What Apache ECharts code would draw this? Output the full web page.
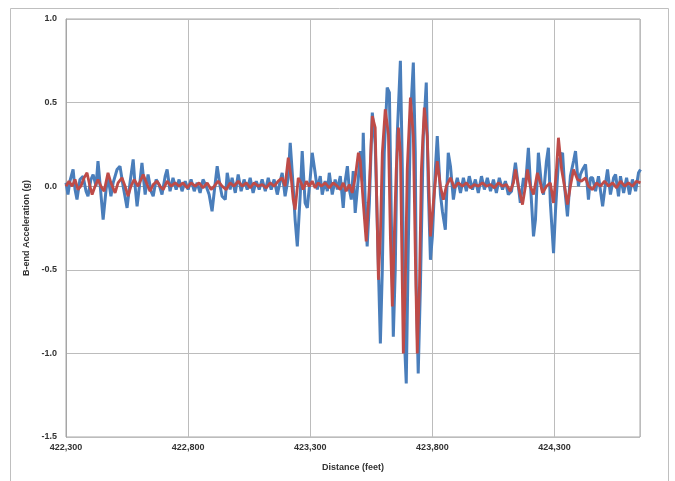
<!DOCTYPE html>
<html>
<head>
<meta charset="utf-8">
<script src="https://cdn.jsdelivr.net/npm/echarts@6/dist/echarts.min.js"></script>
<style>
  html, body { margin: 0; padding: 0; background: #fff; }
  #chart { width: 675px; height: 481px; }
</style>
</head>
<body>
<div id="chart"></div>
<script>
// distance (feet) and acceleration (g) at peaks / troughs
const blueDist = [
  422300, 422308, 422316, 422329, 422337, 422345, 422357, 422370, 422382, 422390,
  422402, 422411, 422423, 422431, 422439, 422452, 422464, 422472, 422484, 422493,
  422509, 422521, 422534, 422550, 422562, 422575, 422583, 422591, 422603, 422611,
  422624, 422636, 422648, 422657, 422669, 422681, 422693, 422706, 422714, 422726,
  422738, 422751, 422763, 422775, 422788, 422800, 422812, 422825, 422837, 422849,
  422861, 422874, 422886, 422898, 422911, 422919, 422931, 422939, 422952, 422960,
  422972, 422980, 422993, 423005, 423017, 423029, 423042, 423054, 423066, 423079,
  423091, 423103, 423116, 423128, 423140, 423152, 423165, 423177, 423185, 423197,
  423210, 423218, 423230, 423238, 423247, 423259, 423267, 423279, 423288, 423300,
  423308, 423320, 423329, 423341, 423349, 423361, 423370, 423378, 423390, 423402,
  423411, 423423, 423435, 423443, 423452, 423460, 423468, 423476, 423484, 423497,
  423505, 423513, 423517, 423525, 423533, 423542, 423554, 423566, 423574, 423587,
  423595, 423603, 423615, 423624, 423632, 423640, 423648, 423656, 423669, 423677,
  423685, 423693, 423702, 423710, 423722, 423730, 423734, 423742, 423751, 423763,
  423775, 423783, 423792, 423800, 423812, 423820, 423833, 423841, 423853, 423865,
  423874, 423886, 423894, 423902, 423915, 423927, 423939, 423951, 423964, 423976,
  423988, 424001, 424013, 424025, 424038, 424050, 424062, 424074, 424087, 424099,
  424111, 424124, 424140, 424152, 424160, 424173, 424181, 424193, 424206, 424214,
  424222, 424234, 424247, 424255, 424267, 424275, 424283, 424296, 424304, 424316,
  424333, 424341, 424353, 424365, 424378, 424386, 424398, 424406, 424415, 424427,
  424439, 424447, 424456, 424468, 424480, 424497, 424509, 424517, 424529, 424542,
  424550, 424562, 424570, 424583, 424595, 424607, 424619, 424632, 424644, 424652
];
const blueVals = [
  0.02, -0.05, 0.03, 0.10, -0.02, -0.08, 0.04, 0.06, -0.03, -0.06,
  0.04, 0.07, 0.00, 0.15, 0.02, -0.20, -0.02, 0.06, -0.06, 0.02,
  0.10, 0.12, 0.00, -0.13, 0.02, 0.16, 0.00, -0.12, 0.03, 0.14,
  -0.05, 0.07, -0.03, -0.06, 0.04, 0.01, -0.05, 0.06, 0.10, -0.03,
  0.05, -0.02, 0.04, -0.03, 0.03, -0.02, 0.04, -0.03, 0.02, -0.04,
  0.04, 0.00, -0.05, -0.15, 0.02, 0.12, 0.00, -0.06, -0.08, 0.08,
  -0.02, 0.05, -0.04, 0.07, -0.03, 0.04, -0.02, 0.05, -0.04, 0.03,
  -0.02, 0.04, -0.03, 0.05, -0.02, 0.04, -0.05, 0.03, 0.08, -0.06,
  0.05, 0.26, 0.00, -0.20, -0.36, -0.05, 0.21, -0.10, -0.13, 0.05,
  0.20, 0.08, -0.02, 0.06, -0.05, 0.03, -0.03, 0.08, -0.05, 0.04,
  -0.02, 0.06, -0.13, 0.03, 0.12, -0.02, -0.08, 0.09, -0.16, 0.05,
  0.21, 0.03, 0.32, -0.10, -0.36, -0.10, 0.44, 0.25, -0.20, -0.94,
  -0.50, 0.20, 0.59, 0.56, -0.20, -0.90, -0.50, 0.30, 0.75, 0.10,
  -0.90, -1.18, -0.30, 0.40, 0.74, 0.20, -0.60, -1.12, -0.60, 0.30,
  0.62, 0.00, -0.44, -0.30, 0.10, 0.30, -0.05, -0.15, -0.26, 0.20,
  0.12, -0.08, 0.00, 0.05, -0.04, 0.05, -0.03, 0.06, -0.02, 0.04,
  -0.04, 0.06, -0.02, 0.05, -0.03, 0.04, -0.04, 0.05, -0.02, 0.03,
  -0.05, -0.03, 0.14, 0.00, -0.10, 0.05, 0.00, 0.23, -0.10, -0.30,
  -0.20, 0.20, 0.00, -0.05, 0.15, 0.23, -0.10, -0.40, -0.15, 0.15,
  0.20, 0.00, -0.18, 0.06, 0.15, 0.21, 0.00, 0.07, 0.10, 0.13,
  -0.08, 0.05, 0.05, -0.03, 0.06, -0.12, 0.02, 0.10, -0.05, 0.05,
  0.07, -0.06, 0.06, -0.04, 0.05, -0.05, 0.04, -0.03, 0.08, 0.10
];

const redDist = [
  422300, 422312, 422325, 422337, 422349, 422361, 422374, 422386, 422398, 422407,
  422419, 422431, 422443, 422456, 422472, 422484, 422501, 422513, 422529, 422542,
  422554, 422566, 422579, 422595, 422616, 422632, 422644, 422657, 422673, 422685,
  422698, 422714, 422730, 422747, 422763, 422779, 422796, 422812, 422829, 422845,
  422861, 422878, 422894, 422907, 422923, 422939, 422956, 422972, 422988, 423005,
  423021, 423038, 423054, 423070, 423087, 423103, 423120, 423136, 423152, 423169,
  423185, 423197, 423210, 423222, 423230, 423238, 423251, 423263, 423271, 423284,
  423296, 423308, 423320, 423333, 423345, 423361, 423378, 423394, 423411, 423423,
  423435, 423447, 423460, 423472, 423484, 423497, 423505, 423517, 423529, 423542,
  423554, 423566, 423579, 423587, 423595, 423607, 423620, 423628, 423636, 423644,
  423652, 423661, 423669, 423681, 423689, 423697, 423710, 423722, 423730, 423738,
  423747, 423755, 423767, 423779, 423792, 423804, 423820, 423833, 423845, 423857,
  423874, 423890, 423906, 423923, 423939, 423956, 423972, 423988, 424005, 424021,
  424038, 424054, 424070, 424087, 424103, 424119, 424132, 424140, 424152, 424169,
  424181, 424189, 424201, 424214, 424230, 424242, 424251, 424267, 424283, 424296,
  424308, 424316, 424329, 424341, 424353, 424365, 424378, 424394, 424410, 424427,
  424439, 424456, 424472, 424488, 424505, 424521, 424538, 424554, 424570, 424587,
  424603, 424619, 424636, 424652
];
const redVals = [
  0.00, 0.03, 0.00, 0.04, -0.02, 0.00, 0.05, 0.08, 0.00, -0.05,
  0.00, 0.04, 0.00, -0.03, 0.08, 0.02, -0.04, 0.02, 0.05, 0.00,
  -0.06, 0.00, 0.04, 0.00, 0.07, 0.01, -0.03, 0.01, 0.03, 0.00,
  -0.02, 0.03, 0.00, 0.02, 0.00, 0.02, -0.01, 0.02, 0.00, 0.02,
  -0.01, 0.02, -0.02, 0.00, 0.03, 0.00, -0.02, 0.02, 0.00, 0.03,
  0.00, 0.02, -0.01, 0.02, 0.00, 0.01, -0.01, 0.02, 0.00, 0.03,
  0.05, 0.00, 0.17, 0.05, -0.08, -0.14, 0.05, 0.02, -0.02, 0.03,
  0.00, 0.03, -0.01, 0.02, 0.00, 0.02, -0.01, 0.02, 0.00, -0.02,
  0.02, -0.03, 0.01, -0.04, 0.05, 0.20, 0.15, -0.10, -0.33, 0.00,
  0.42, 0.35, -0.56, -0.30, 0.20, 0.46, 0.31, -0.30, -0.72, -0.30,
  0.10, 0.35, 0.20, -1.00, -0.60, 0.10, 0.53, 0.30, -0.40, -1.00,
  -0.60, 0.10, 0.47, 0.30, -0.30, -0.10, 0.15, 0.00, -0.08, 0.00,
  0.05, -0.01, 0.02, 0.00, 0.02, -0.01, 0.01, 0.00, 0.02, 0.00,
  0.01, -0.01, 0.02, 0.00, 0.01, -0.03, 0.02, 0.10, 0.00, -0.11,
  0.00, 0.10, 0.00, -0.05, 0.08, 0.02, -0.04, 0.00, 0.02, -0.10,
  0.10, 0.29, 0.10, 0.00, -0.11, 0.00, 0.10, 0.04, 0.03, 0.05,
  0.00, -0.02, 0.02, 0.00, 0.03, 0.00, 0.02, -0.01, 0.03, 0.00,
  0.02, 0.00, 0.03, 0.02
];

const xTicks = { min: 422300, max: 424650, step: 500 };
const yTicks = { min: -1.5, max: 1.0, step: 0.5 };

const zip = (xs, ys) => xs.map((x, i) => [x, ys[i]]);

const chart = echarts.init(document.getElementById('chart'));

const labelFont = {
  color: '#333',
  fontFamily: 'Liberation Sans, Arial, sans-serif',
  fontSize: 9,
  fontWeight: 'bold'
};

chart.setOption({
  animation: false,
  backgroundColor: '#fff',
  graphic: [{
    type: 'rect',
    shape: { x: 10.5, y: 8.5, width: 658, height: 480 },
    style: { fill: 'none', stroke: '#bfbfbf', lineWidth: 1 },
    silent: true
  }],
  grid: {
    left: 66,
    right: 35,
    top: 19,
    bottom: 44,
    show: true,
    borderColor: '#a6a6a6',
    borderWidth: 1
  },
  xAxis: {
    type: 'value',
    min: xTicks.min,
    max: xTicks.max,
    interval: xTicks.step,
    name: 'Distance (feet)',
    nameLocation: 'middle',
    nameGap: 26,
    nameTextStyle: labelFont,
    axisLine: { show: true, lineStyle: { color: '#a6a6a6' } },
    axisTick: { show: false },
    axisLabel: Object.assign({}, labelFont, {
      margin: 6,
      showMaxLabel: false,
      formatter: v => v.toLocaleString('en-US')
    }),
    splitLine: { show: true, lineStyle: { color: '#bcbcbc', width: 1 } }
  },
  yAxis: {
    type: 'value',
    min: yTicks.min,
    max: yTicks.max,
    interval: yTicks.step,
    name: 'B-end Acceleration (g)',
    nameLocation: 'middle',
    nameGap: 32,
    nameTextStyle: labelFont,
    axisLine: { show: true, lineStyle: { color: '#a6a6a6' } },
    axisTick: { show: false },
    axisLabel: Object.assign({}, labelFont, {
      margin: 9,
      formatter: v => v.toFixed(1)
    }),
    splitLine: { show: true, lineStyle: { color: '#bcbcbc', width: 1 } }
  },
  series: [
    {
      name: 'B-end raw',
      type: 'line',
      data: zip(blueDist, blueVals),
      showSymbol: false,
      lineStyle: { color: '#4a7ebb', width: 3 },
      itemStyle: { color: '#4a7ebb' }
    },
    {
      name: 'B-end filtered',
      type: 'line',
      data: zip(redDist, redVals),
      showSymbol: false,
      lineStyle: { color: '#be4b48', width: 2.8 },
      itemStyle: { color: '#be4b48' }
    }
  ]
});
</script>
</body>
</html>
